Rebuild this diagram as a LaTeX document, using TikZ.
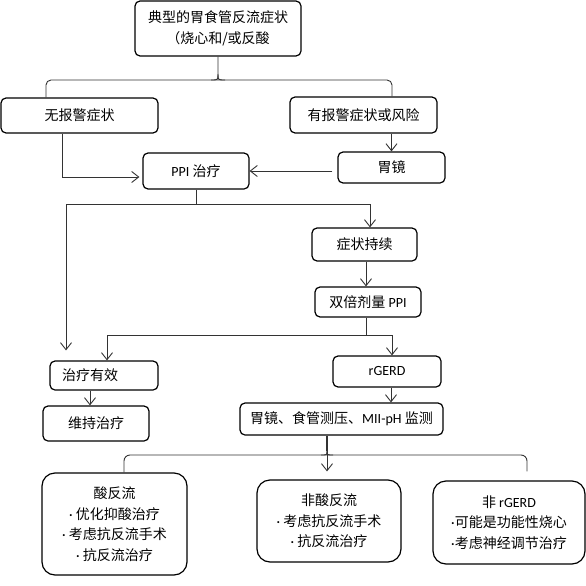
\documentclass[tikz,border=0pt]{standalone}
\usepackage{fontspec}
\setmainfont{Noto Sans CJK SC}
\newfontfamily\lat{Carlito}
\newcommand{\bul}{{\lat ·}}
\usetikzlibrary{arrows.meta,calc}
\begin{document}
\begin{tikzpicture}[x=1pt,y=-1pt,
  box/.style={draw=black, line width=1.2pt, rounded corners=5pt, inner sep=0pt, align=center, font=\fontsize{14}{20.5}\selectfont},
  bigbox/.style={box, rounded corners=13pt},
  conn/.style={draw=black!80, line width=0.9pt},
  arr/.style={conn, -{Straight Barb[length=7pt,width=11pt]}},
]
\fill[white] (0,0) rectangle (586,586);
\useasboundingbox (0,0) rectangle (586,586);

% nodes
\node[box, minimum width=166pt, minimum height=55pt] (top) at (218,28.5) {典型的胃食管反流症状\\（烧心和/或反酸};
\node[box, minimum width=157pt, minimum height=35pt] (nowarn) at (79.5,115.5) {无报警症状};
\node[box, minimum width=147pt, minimum height=36pt] (warn) at (363.5,115) {有报警症状或风险};
\node[box, minimum width=107pt, minimum height=31pt] (endo) at (391.5,167.5) {胃镜};
\node[box, minimum width=106pt, minimum height=36pt] (ppi) at (196,171) {{\lat PPI} 治疗};
\node[box, minimum width=105pt, minimum height=33pt] (persist) at (364.5,244.5) {症状持续};
\node[box, minimum width=106pt, minimum height=30pt] (double) at (368,302) {双倍剂量 {\lat PPI}};
\node[box, minimum width=108pt, minimum height=29pt, text width=84pt, inner xsep=12pt, align=left] (effective) at (104,375.5) {治疗有效};
\node[box, minimum width=106pt, minimum height=35pt] (maintain) at (96,423.5) {维持治疗};
\node[box, minimum width=108pt, minimum height=31pt] (rgerd) at (387,371.5) {\lat rGERD};
\node[box, minimum width=203pt, minimum height=32pt] (tests) at (341.5,419) {胃镜、食管测压、{\lat MII-pH} 监测};
\node[bigbox, minimum width=145pt, minimum height=102pt] (acid) at (114.5,524) {酸反流\\\bul\ 优化抑酸治疗\\\bul\ 考虑抗反流手术\\\bul\ 抗反流治疗};
\node[bigbox, minimum width=144pt, minimum height=82pt] (nonacid) at (329,521) {非酸反流\\\bul\ 考虑抗反流手术\\\bul\ 抗反流治疗};
\node[bigbox, minimum width=152pt, minimum height=83pt] (nonrgerd) at (509,522.5) {非 {\lat rGERD}\\\bul 可能是功能性烧心\\\bul 考虑神经调节治疗};

% top brace
\coordinate (bl) at (46,80);
\coordinate (bc) at (218,80);
\coordinate (br) at (392,80);
\draw[conn, rounded corners=5pt] (bl |- nowarn.north) -- (bl) -- (br) -- (br |- warn.north);
\draw[conn] (top.south) -- ($(bc)+(0,-6)$) .. controls ($(bc)$) .. ($(bc)+(-7,0)$);
\draw[conn] ($(bc)+(0,-6)$) .. controls ($(bc)$) .. ($(bc)+(7,0)$);

% to endoscopy and PPI
\draw[arr] (warn.south -| endo.north) -- (endo.north);
\coordinate (c1) at (62,0);
\draw[arr, shorten >=3pt] (c1 |- nowarn.south) |- ($(ppi.west)+(0,6)$);
\draw[arr] ($(endo.west |- ppi.east)+(-5,0)$) -- (ppi.east);

% PPI fork
\coordinate (fl) at (66,204);
\coordinate (fr) at (370,204);
\draw[conn] (ppi.south) -- (ppi.south |- fl);
\draw[arr] (fr) -- (fl) -- ($(fl |- effective.north)+(0,-10)$);
\draw[arr] (fl) -- (fr) -- (fr |- persist.north);
\coordinate (d1) at (366,0);
\draw[arr] (d1 |- persist.south) -- (d1 |- double.north);

% double fork
\coordinate (gl) at (107,335);
\coordinate (gr) at (392,335);
\draw[conn] (d1 |- double.south) -- (d1 |- gl);
\draw[arr] (gr) -- (gl) -- (gl |- effective.north);
\draw[arr] (gl) -- (gr) -- (gr |- rgerd.north);

% effective -> maintain, rgerd -> tests
\coordinate (e1) at (90,0);
\draw[arr] (e1 |- effective.south) -- (e1 |- maintain.north);
\coordinate (e2) at (391,0);
\draw[arr] (e2 |- rgerd.south) -- (e2 |- tests.north);

% bottom brace
\coordinate (hl) at (124,455);
\coordinate (hc) at (327,455);
\coordinate (hr) at (527,455);
\draw[conn, line width=1.8pt] (tests.south -| hc) -- ($(hc)+(0,-4)$);
\draw[conn] ($(hc)+(0,-4)$) .. controls ($(hc)$) .. ($(hc)+(-6,0)$);
\draw[conn] ($(hc)+(0,-4)$) .. controls ($(hc)$) .. ($(hc)+(6,0)$);
\draw[conn, rounded corners=6pt] (hl |- acid.north) -- (hl) -- (hr) -- ($(hr |- nonrgerd.north)+(0,-9)$);
\draw[arr] ($(hc)+(0,-4)$) -- ($(hc |- nonacid.north)+(0,-8)$);
\end{tikzpicture}
\end{document}
